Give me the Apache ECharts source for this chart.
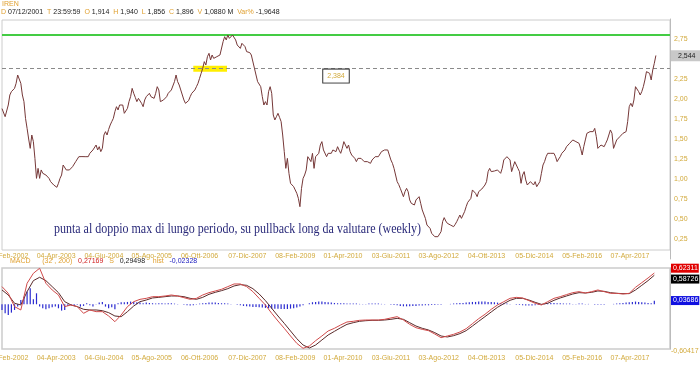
<!DOCTYPE html>
<html><head><meta charset="utf-8">
<script src="https://cdn.jsdelivr.net/npm/echarts@6/dist/echarts.min.js"></script>
<style>html,body{margin:0;padding:0;background:#fff}#c{width:700px;height:365px}</style>
</head><body><div id="c"></div>
<script>
// ---- data ----
const startDateUTC = [2001, 11, 7];          // first weekly bar (07/12/2001)
const weekCount = 853;                        // weekly slots on the axis
const monthsIt = ['Gen','Feb','Mar','Apr','Mag','Giu','Lug','Ago','Set','Ott','Nov','Dic'];
const tickLabels = ['01-Feb-2002','04-Apr-2003','04-Giu-2004','05-Ago-2005','06-Ott-2006','07-Dic-2007','08-Feb-2009','01-Apr-2010','03-Giu-2011','03-Ago-2012','04-Ott-2013','05-Dic-2014','05-Feb-2016','07-Apr-2017'];
const tickFirstWeek = 8, tickEveryWeeks = 61;
const yTickLabels = ['0,25','0,50','0,75','1,00','1,25','1,50','1,75','2,00','2,25','','2,75'];

const closeStepWeeks = 2;   // closes read every 2 weeks
const closeValues = [
1.88,1.883,1.779,1.800,1.925,2.050,2.092,2.071,2.133,2.196,
2.300,2.279,2.196,2.050,1.967,1.758,1.633,1.50,1.383,1.550,
1.467,1.258,1.008,1.133,1.008,1.113,1.071,1.092,1.050,1.071,
1.008,0.967,0.988,0.925,0.91,0.896,0.946,1.008,1.050,1.175,
1.196,1.113,1.133,1.113,1.133,1.154,1.175,1.217,1.238,1.279,
1.258,1.28,1.300,1.279,1.300,1.279,1.321,1.300,1.363,1.342,
1.425,1.363,1.404,1.342,1.383,1.550,1.592,1.550,1.62,1.675,
1.717,1.758,1.842,1.904,1.863,1.925,1.904,1.925,1.821,1.842,
1.883,1.967,2.029,2.133,2.071,2.02,1.967,2.008,1.988,1.946,
1.904,1.988,2.029,2.050,2.071,2.029,2.050,2.008,2.071,2.154,
2.113,1.967,1.98,1.988,2.008,2.029,2.071,2.092,2.113,2.133,
2.217,2.300,2.217,2.175,2.113,2.092,1.988,1.946,1.925,1.98,
2.029,2.071,2.050,2.113,2.154,2.196,2.258,2.321,2.383,2.467,
2.425,2.529,2.571,2.488,2.550,2.508,2.52,2.529,2.529,2.550,
2.550,2.717,2.779,2.738,2.800,2.758,2.738,2.800,2.821,2.738,
2.675,2.696,2.633,2.696,2.675,2.654,2.592,2.613,2.58,2.550,
2.529,2.383,2.300,2.217,2.238,2.154,2.029,1.925,1.967,1.925,
2.092,2.154,2.071,1.800,1.738,1.779,1.821,1.77,1.717,1.550,
1.342,1.133,1.258,1.071,0.946,0.925,0.904,0.863,0.821,0.758,
0.654,0.883,1.008,1.050,1.113,1.279,1.25,1.217,1.321,1.133,
1.279,1.300,1.321,1.425,1.467,1.363,1.342,1.279,1.321,1.300,
1.321,1.363,1.383,1.342,1.404,1.36,1.321,1.383,1.467,1.488,
1.383,1.425,1.342,1.300,1.321,1.258,1.217,1.258,1.238,1.258,
1.258,1.217,1.238,1.217,1.21,1.196,1.238,1.258,1.279,1.258,
1.279,1.300,1.342,1.363,1.363,1.383,1.363,1.342,1.238,1.196,
1.133,1.050,0.967,0.93,0.883,0.904,0.779,0.842,0.883,0.842,
0.738,0.696,0.717,0.675,0.738,0.758,0.779,0.696,0.613,0.592,
0.508,0.425,0.40,0.383,0.321,0.300,0.279,0.258,0.279,0.258,
0.342,0.467,0.517,0.475,0.446,0.433,0.425,0.413,0.404,0.433,
0.467,0.508,0.550,0.508,0.529,0.592,0.654,0.708,0.73,0.758,
0.863,0.842,0.821,0.779,0.842,0.863,0.875,0.883,0.925,0.967,
1.092,1.133,1.092,1.113,1.100,1.092,1.113,1.09,1.071,1.133,
1.238,1.258,1.279,1.258,1.238,1.092,1.154,1.217,1.175,1.133,
1.092,0.946,1.050,1.092,0.988,0.925,0.95,0.967,0.946,0.925,
0.967,0.904,0.883,0.967,1.071,1.175,1.217,1.279,1.321,1.342,
1.321,1.321,1.321,1.279,1.217,1.25,1.279,1.321,1.342,1.363,
1.404,1.425,1.446,1.467,1.488,1.467,1.467,1.488,1.446,1.383,
1.300,1.404,1.488,1.571,1.58,1.592,1.571,1.592,1.633,1.529,
1.383,1.363,1.425,1.446,1.404,1.446,1.488,1.488,1.613,1.571,
1.383,1.363,1.488,1.51,1.529,1.550,1.571,1.592,1.592,1.717,
1.904,1.946,1.904,1.988,2.154,2.175,2.092,2.050,2.092,2.154,
2.238,2.342,2.33,2.321,2.238,2.363,2.446,2.544
];
const resistanceLevel = 2.80;
const supportLevel = 2.384;
const lastClose = 2.544;
const highlightWeeks = [244, 287];
const highlightRange = [2.341, 2.416];

const macdStepWeeks = 8;
const macdValues = [
0.403,0.295,0.080,0.026,0.457,0.618,0.70,0.457,0.349,0.268,
0.080,0.107,0.080,-0.028,0.026,-0.001,-0.001,-0.071,-0.163,-0.055,
0.080,0.160,0.198,0.214,0.241,0.241,0.252,0.268,0.252,0.225,
0.198,0.214,0.268,0.306,0.333,0.360,0.403,0.446,0.446,0.403,
0.322,0.214,0.107,-0.028,-0.152,-0.270,-0.394,-0.513,-0.593,-0.556,
-0.470,-0.394,-0.313,-0.270,-0.216,-0.168,-0.157,-0.141,-0.136,-0.136,
-0.136,-0.125,-0.103,-0.082,-0.136,-0.206,-0.260,-0.287,-0.308,-0.362,
-0.421,-0.394,-0.367,-0.330,-0.276,-0.195,-0.114,-0.044,0.037,0.107,
0.160,0.214,0.230,0.220,0.177,0.134,0.107,0.160,0.214,0.241,
0.274,0.306,0.322,0.300,0.322,0.349,0.322,0.295,0.295,0.284,
0.295,0.392,0.467,0.543,0.623
];
const signalValues = [
0.349,0.268,0.134,0.107,0.322,0.500,0.554,0.500,0.403,0.306,
0.160,0.107,0.080,0.037,0.026,0.026,0.015,-0.017,-0.071,-0.082,
-0.001,0.090,0.160,0.187,0.220,0.230,0.241,0.252,0.252,0.241,
0.214,0.198,0.230,0.279,0.311,0.338,0.370,0.414,0.435,0.424,
0.370,0.284,0.177,0.053,-0.071,-0.190,-0.313,-0.437,-0.540,-0.588,
-0.540,-0.459,-0.378,-0.319,-0.260,-0.206,-0.179,-0.157,-0.147,-0.141,
-0.141,-0.136,-0.125,-0.109,-0.125,-0.179,-0.233,-0.270,-0.297,-0.340,
-0.394,-0.410,-0.389,-0.356,-0.308,-0.233,-0.157,-0.082,-0.006,0.069,
0.128,0.182,0.214,0.214,0.187,0.150,0.117,0.134,0.182,0.220,
0.252,0.284,0.306,0.300,0.311,0.333,0.327,0.306,0.295,0.290,
0.290,0.349,0.424,0.500,0.587
];
const histStepWeeks = 4;
const histValues = [
-0.061,-0.097,-0.115,-0.090,-0.061,-0.025,0.047,0.082,0.136,0.172,
0.054,0.118,-0.025,-0.043,-0.054,-0.043,-0.032,-0.025,-0.043,-0.068,
-0.061,-0.018,-0.007,-0.018,-0.004,-0.025,-0.018,0.011,-0.011,-0.025,
0.004,0.018,0.025,-0.025,-0.043,-0.032,-0.054,0.011,0.022,0.022,
0.025,0.029,0.025,0.022,0.018,0.011,0.018,0.014,0.011,0.007,
0.011,0.011,0.007,0.011,0.011,0.007,0.004,0,-0.004,-0.011,
-0.014,-0.011,-0.004,0.007,0.011,0.014,0.018,0.018,0.018,0.014,
0.011,0.011,0.007,0.004,0,-0.004,-0.011,-0.018,-0.022,-0.025,
-0.029,-0.029,-0.032,-0.036,-0.039,-0.043,-0.047,-0.047,-0.047,-0.050,
-0.050,-0.050,-0.047,-0.043,-0.036,-0.025,-0.011,0,0.011,0.022,
0.025,0.029,0.029,0.025,0.022,0.018,0.014,0.011,0.011,0.011,
0.007,0.007,0.007,0.007,0.004,0.004,0.004,0.007,0.007,0.007,
0.007,0.004,0.004,0,-0.004,-0.007,-0.011,-0.018,-0.022,-0.022,
-0.022,-0.018,-0.018,-0.014,-0.014,-0.011,-0.011,-0.007,-0.007,-0.004,
-0.004,0,0,0.004,0.007,0.011,0.014,0.014,0.018,0.022,
0.025,0.025,0.029,0.029,0.029,0.025,0.025,0.022,0.018,0.014,
0.011,0.007,0.004,0,-0.004,-0.007,-0.011,-0.014,-0.014,-0.014,
-0.011,-0.007,-0.004,0.004,0.011,0.014,0.014,0.011,0.011,0.007,
0.007,0.007,0.004,0.004,0.007,0.007,0.004,0.004,0,-0.004,
-0.004,-0.004,-0.004,0,0,0.004,0.007,0.011,0.014,0.018,
0.022,0.025,0.029,0.025,0.022,0.018,0.014,0.011,0.037
];
const macdMin = -0.60417, macdMax = 0.704;
const histMin = -0.481, histMax = 0.390;
const lastMacd = 0.623, lastSignal = 0.587, lastHist = 0.037;
const lastMacdText = '0,62311', lastSignalText = '0,58726', lastHistText = '0,03686';

// ---- build ----
const categories = [];
for (let i = 0; i < weekCount; i++) {
  const d = new Date(Date.UTC(startDateUTC[0], startDateUTC[1], startDateUTC[2]) + i * 7 * 864e5);
  categories.push(String(d.getUTCDate()).padStart(2,'0') + '-' + monthsIt[d.getUTCMonth()] + '-' + d.getUTCFullYear());
}
const closeData = closeValues.map((v, i) => [i * closeStepWeeks, v]);
const macdData = macdValues.map((v, i) => [i * macdStepWeeks, v]);
const signalData = signalValues.map((v, i) => [i * macdStepWeeks, v]);
const histData = histValues.map((v, i) => [i * histStepWeeks, v]);
const fmt = (v, d) => v.toFixed(d).replace('.', ',');

const gold = '#d2aa3c';
const FF = 'Liberation Sans, Arial, sans-serif';
const lab = {fontSize: 7, fontFamily: FF};
const xLabel = Object.assign({}, lab, {
  color: gold, hideOverlap: false, alignMinLabel: 'center', alignMaxLabel: 'center',
  interval: (i) => i >= tickFirstWeek && (i - tickFirstWeek) % tickEveryWeeks === 0,
  formatter: (v, i) => tickLabels[(i - tickFirstWeek) / tickEveryWeeks] || ''
});
const L = 2, R = 30;
const hidden = {color: 'rgba(0,0,0,0)', width: 0};
const endBox = (txt, fg, bg, off) => Object.assign({}, lab, {show: true, position: 'end', distance: 1, formatter: txt, color: fg, backgroundColor: bg, padding: [1, 1, 1, 2], offset: off || [0, 0]});

const chart = echarts.init(document.getElementById('c'), null, {renderer: 'canvas'});
chart.setOption({
  animation: false,
  backgroundColor: '#fff',
  grid: [
    {left: L, right: R, top: 20, bottom: 115, show: true, borderColor: '#cccccc', borderWidth: 1, backgroundColor: 'transparent', outerBoundsMode: 'none'},
    {left: L, right: R, top: 19, bottom: 106, outerBoundsMode: 'none'},
    {left: L, right: R, top: 268, bottom: 16, show: true, borderColor: '#cccccc', borderWidth: 1.5, backgroundColor: 'transparent', outerBoundsMode: 'none'}
  ],
  xAxis: [
    {gridIndex: 0, type: 'category', data: categories, boundaryGap: false, axisLine: {show: false}, axisTick: {show: false}, axisLabel: Object.assign({margin: 3}, xLabel), splitLine: {show: false}},
    {gridIndex: 1, type: 'category', data: categories, boundaryGap: false, show: false},
    {gridIndex: 2, type: 'category', data: categories, boundaryGap: false, axisLine: {show: false}, axisTick: {show: false}, axisLabel: Object.assign({margin: 6}, xLabel), splitLine: {show: false}}
  ],
  yAxis: [
    {gridIndex: 0, type: 'value', show: false},
    {gridIndex: 1, type: 'value', position: 'right', min: 0, max: 3, interval: 0.25,
      axisLine: {show: true, lineStyle: {color: '#bbbbbb'}}, axisTick: {show: false}, splitLine: {show: false},
      axisLabel: Object.assign({}, lab, {color: gold, margin: 4,
        formatter: (v) => { const k = Math.round(v / 0.25) - 1; return (k >= 0 && k < yTickLabels.length) ? yTickLabels[k] : ''; }})},
    {gridIndex: 2, type: 'value', position: 'right', min: macdMin, max: macdMax, axisLine: {show: true, lineStyle: {color: '#bbbbbb'}}, axisTick: {show: false}, splitLine: {show: false}, axisLabel: {show: false}},
    {gridIndex: 2, type: 'value', position: 'right', min: histMin, max: histMax, show: false}
  ],
  series: [
    {
      type: 'line', xAxisIndex: 1, yAxisIndex: 1, data: closeData, showSymbol: false, symbol: 'none',
      lineStyle: {color: '#763838', width: 1}, z: 5,
      markArea: {silent: true, itemStyle: {color: '#ffee00'}, data: [[{xAxis: highlightWeeks[0], yAxis: highlightRange[0]}, {xAxis: highlightWeeks[1], yAxis: highlightRange[1]}]]},
      markLine: {
        silent: true, symbol: ['none', 'none'],
        data: [
          {yAxis: resistanceLevel, lineStyle: {color: '#44cc44', width: 2, type: 'solid'}, label: {show: false}},
          {yAxis: supportLevel, lineStyle: {color: '#8a8a8a', width: 1, type: [4, 3]},
            label: Object.assign({}, lab, {show: true, position: 'insideMiddleBottom', formatter: fmt(supportLevel, 3), color: gold,
              backgroundColor: '#fff', borderColor: '#333', borderWidth: 1, padding: [3, 4], distance: 1})},
          {yAxis: lastClose, lineStyle: hidden,
            label: Object.assign({}, lab, {show: true, position: 'end', distance: 1, formatter: fmt(lastClose, 3), color: '#222',
              backgroundColor: '#c8c8c8', padding: [2, 8, 2, 7]})}
        ]
      }
    },
    {
      type: 'line', xAxisIndex: 2, yAxisIndex: 2, data: signalData, showSymbol: false, symbol: 'none',
      lineStyle: {color: '#5a2a2a', width: 1}, z: 4,
      markLine: {silent: true, symbol: ['none', 'none'], data: [
        {yAxis: lastSignal, lineStyle: hidden, label: endBox(lastSignalText, '#fff', '#000', [0, 4])},
        {yAxis: macdMin, lineStyle: hidden, label: Object.assign({}, lab, {show: true, position: 'end', distance: 1, formatter: fmt(macdMin, 5), color: gold, offset: [0, 2]})}
      ]}
    },
    {
      type: 'line', xAxisIndex: 2, yAxisIndex: 2, data: macdData, showSymbol: false, symbol: 'none',
      lineStyle: {color: '#d04a4a', width: 1}, z: 5,
      markLine: {silent: true, symbol: ['none', 'none'], data: [
        {yAxis: lastMacd, lineStyle: hidden, label: endBox(lastMacdText, '#fff', '#e00000', [0, -5])}
      ]}
    },
    {
      type: 'bar', xAxisIndex: 2, yAxisIndex: 3, data: histData, barWidth: 1.2,
      itemStyle: {color: '#2a2ad0'}, z: 3,
      markLine: {silent: true, symbol: ['none', 'none'], data: [
        {yAxis: lastHist, lineStyle: hidden, label: endBox(lastHistText, '#fff', '#1010e0')}
      ]}
    }
  ],
  graphic: [
    {type: 'text', left: 2, top: 1, style: {text: 'IREN', fill: '#e0a030', font: '7px Liberation Sans'}},
    {type: 'text', left: 1, top: 9, style: {
      text: '{l|D}{v|07/12/2001}  {l|T}{v|23:59:59}  {l|O}{v|1,914}  {l|H}{v|1,940}  {l|L}{v|1,856}  {l|C}{v|1,896}  {l|V}{v|1,0880 M}  {l|Var%}{v|-1,9648}',
      font: '7px Liberation Sans',
      rich: {l: {fill: '#e0a030', font: '7px Liberation Sans', padding: [0, 2, 0, 0]}, v: {fill: '#222', font: '7px Liberation Sans'}}
    }},
    {type: 'text', left: 10, top: 258, style: {
      text: '{l|MACD}      {l|(32 , 200)}   {r|0,27169}   {l|S}   {k|0,29498}    {l|hist}   {b|-0,02328}',
      font: '7px Liberation Sans',
      rich: {l: {fill: '#e0a030', font: '7px Liberation Sans'}, r: {fill: '#d02020', font: '7px Liberation Sans'}, k: {fill: '#222', font: '7px Liberation Sans'}, b: {fill: '#2020c0', font: '7px Liberation Sans'}}
    }},
    {type: 'text', x: 54, y: 222, scaleX: 0.856, style: {text: 'punta al doppio max di lungo periodo, su pullback long da valutare (weekly)', fill: '#2a2a7a', font: '14px Liberation Serif'}}
  ]
});
</script>
</body></html>
